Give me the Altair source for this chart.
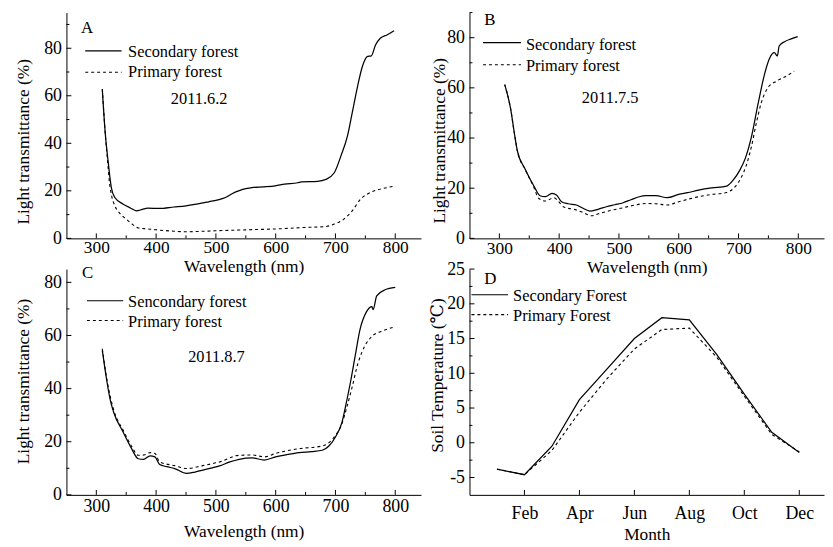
import json
import altair as alt
import pandas as pd

FONT = "Liberation Serif, 'Times New Roman', 'DejaVu Serif', serif"

# ---------------- data ----------------
# Panel A, 2011.6.2
A_SEC_WL = [310, 315, 320, 325, 331, 345, 357, 367, 377, 386, 405, 430, 450, 470, 488, 505, 516, 527,
            538, 550, 560, 580, 599, 615, 637, 643, 670, 684, 698, 709, 720, 728, 737, 745, 753, 760,
            767, 775, 786, 798]
A_SEC_V = [62.8, 44.0, 31.8, 21.5, 17.2, 14.4, 12.8, 11.6, 12.2, 12.7, 12.6, 13.2, 13.7, 14.5, 15.4,
           16.3, 17.2, 18.8, 20.0, 20.9, 21.4, 21.7, 22.1, 22.8, 23.4, 23.8, 24.0, 24.8, 27.6, 34.6,
           43.0, 52.8, 64.0, 72.3, 76.5, 76.8, 81.4, 84.2, 85.6, 87.4]
A_PRI_WL = [310, 315, 318, 322, 326, 331, 340, 350, 360, 370, 385, 400, 425, 450, 480, 510, 538, 565,
            593, 620, 648, 670, 684, 698, 714, 728, 742, 753, 770, 785, 798]
A_PRI_V = [62.8, 44.0, 35.0, 23.5, 17.5, 13.7, 10.3, 8.1, 6.0, 4.4, 4.0, 3.6, 3.1, 2.8, 3.0, 3.3, 3.5,
           3.7, 3.9, 4.2, 4.6, 4.8, 5.0, 6.0, 8.1, 11.6, 16.5, 18.6, 20.4, 21.3, 22.0]

# Panel B, 2011.7.5
B_SEC_WL = [309, 319, 325, 330, 343, 357, 368, 377, 388, 396, 404, 415, 429, 440, 451, 465, 479, 493,
            507, 520, 534, 545, 562, 581, 600, 615, 633, 655, 680, 691, 702, 711, 722, 733, 744, 752,
            760, 765, 768, 777, 788, 799]
B_SEC_V = [61.3, 51.4, 42.0, 35.0, 27.7, 21.2, 17.0, 16.6, 17.9, 17.2, 14.6, 13.8, 13.3, 12.0, 10.9,
           11.6, 12.6, 13.4, 14.2, 15.4, 16.6, 17.0, 17.0, 16.2, 17.5, 18.2, 19.2, 20.1, 20.8, 23.2,
           27.1, 31.7, 40.9, 54.0, 65.9, 71.8, 74.0, 72.7, 76.7, 78.4, 79.5, 80.4]
B_PRI_WL = [309, 319, 325, 330, 343, 357, 366, 377, 391, 398, 407, 429, 441, 454, 466, 479, 507, 525,
            545, 562, 581, 600, 633, 655, 680, 694, 705, 713, 722, 730, 738, 749, 763, 777, 793]
B_PRI_V = [61.3, 51.4, 42.0, 35.0, 27.5, 20.8, 15.9, 14.9, 16.2, 15.0, 12.6, 11.3, 10.2, 9.0, 9.8,
           10.7, 12.2, 13.2, 13.9, 13.8, 13.3, 14.6, 16.6, 17.5, 18.3, 20.5, 24.5, 29.1, 37.0, 46.2,
           54.0, 60.0, 62.6, 64.3, 66.6]

# Panel C, 2011.8.7
C_SEC_WL = [310, 318, 323, 329, 345, 359, 370, 379, 390, 398, 406, 418, 431, 451, 465, 478, 492, 506,
            522, 539, 561, 581, 600, 620, 639, 660, 678, 689, 700, 711, 716, 725, 733, 741, 752, 761,
            763, 769, 783, 800]
C_SEC_V = [54.5, 42.3, 36.0, 31.1, 23.6, 17.4, 13.6, 13.4, 14.7, 14.3, 11.4, 10.6, 9.9, 8.1, 8.6, 9.3,
           10.1, 10.9, 12.3, 13.4, 13.9, 13.1, 14.3, 15.2, 15.9, 16.3, 16.8, 18.4, 21.8, 27.4, 32.4,
           42.3, 52.3, 62.2, 69.0, 70.9, 69.7, 74.9, 77.2, 78.1]
C_PRI_WL = [310, 318, 329, 345, 359, 370, 380, 390, 398, 406, 431, 451, 478, 506, 539, 561, 581, 600,
            639, 678, 700, 711, 719, 727, 738, 749, 761, 777, 797]
C_PRI_V = [55.0, 43.0, 32.0, 24.3, 18.3, 14.9, 15.0, 15.9, 15.6, 12.4, 11.0, 9.9, 11.0, 12.4, 14.9,
           15.0, 14.3, 15.6, 17.4, 18.4, 22.4, 26.9, 33.0, 39.8, 49.8, 56.0, 59.7, 61.6, 63.1]

# Panel D, soil temperature
MONTH_NUM = [1, 2, 3, 4, 5, 6, 7, 8, 9, 10, 11, 12]
MONTH_NAMES = ["Jan", "Feb", "Mar", "Apr", "May", "Jun", "Jul", "Aug", "Sep", "Oct", "Nov", "Dec"]
D_SEC = [-3.8, -4.6, -0.5, 6.2, 10.6, 15.0, 18.0, 17.7, 12.7, 7.0, 1.5, -1.4]
D_PRI = [-3.8, -4.6, -1.1, 4.4, 9.2, 13.5, 16.3, 16.5, 12.3, 6.7, 1.2, -1.3]

# text
LEG_A = ["Secondary forest", "Primary forest"]
LEG_B = ["Secondary forest", "Primary forest"]
LEG_C = ["Sencondary forest", "Primary forest"]
LEG_D = ["Secondary Forest", "Primary Forest"]
DATES = ["2011.6.2", "2011.7.5", "2011.8.7"]
LETTERS = ["A", "B", "C", "D"]

WL_MAJOR = [300, 400, 500, 600, 700, 800]
WL_MINOR = [350, 450, 550, 650, 750]
WL_DOMAIN = [250, 843]

W, H = 358, 228
DASH = [3, 3]


def one(text=""):
    return pd.DataFrame({"t": [text]})


def text_layer(txt, x, y, size=16.5, align="left"):
    return alt.Chart(one(txt)).mark_text(
        font=FONT, fontSize=size, align=align, baseline="alphabetic", color="black"
    ).encode(x=alt.value(x), y=alt.value(y), text="t:N")


def legend_layers(names, lx0, lx1, y1, y2, tx, ty1, ty2):
    return [
        alt.Chart(one()).mark_rule(color="black", strokeWidth=1.1).encode(
            x=alt.value(lx0), x2=alt.value(lx1), y=alt.value(y1)),
        alt.Chart(one()).mark_rule(color="black", strokeWidth=1.1, strokeDash=DASH).encode(
            x=alt.value(lx0), x2=alt.value(lx1), y=alt.value(y2)),
        text_layer(names[0], tx, ty1),
        text_layer(names[1], tx, ty2),
    ]


def tick_layers(xs, ys, xaxis, yaxis, xmajor, xminor, ymajor, yminor):
    layers = []
    for vals, ln in ((xmajor, 5), (xminor, 3)):
        if vals:
            layers.append(alt.Chart(pd.DataFrame({"t": vals})).mark_rule(color="black", strokeWidth=1).encode(
                x=alt.X("t:Q", scale=xs, axis=xaxis), y=alt.value(H), y2=alt.value(H - ln)))
    for vals, ln in ((ymajor, 5), (yminor, 3)):
        if vals:
            layers.append(alt.Chart(pd.DataFrame({"t": vals})).mark_rule(color="black", strokeWidth=1).encode(
                y=alt.Y("t:Q", scale=ys, axis=yaxis), x=alt.value(0), x2=alt.value(ln)))
    return layers


def spectral(sec_wl, sec_v, pri_wl, pri_v, ydom, yminor, letter, names, date, pos):
    xs = alt.Scale(domain=WL_DOMAIN, nice=False, zero=False)
    ys = alt.Scale(domain=ydom, nice=False, zero=False)
    xaxis = alt.Axis(values=WL_MAJOR, title="Wavelength (nm)", labelPadding=pos["xlp"],
                     labelFontSize=pos["xls"], titleY=pos["xty"], format="d")
    yaxis = alt.Axis(values=[0, 20, 40, 60, 80], title="Light transmittance (%)", labelPadding=5,
                     titleX=pos["ytx"], titleY=pos["yty"], format="d")
    pri = alt.Chart(pd.DataFrame({"wl": pri_wl, "v": pri_v})).mark_line(
        color="black", strokeWidth=1.1, strokeDash=DASH, interpolate="monotone").encode(
        x=alt.X("wl:Q", scale=xs, axis=xaxis), y=alt.Y("v:Q", scale=ys, axis=yaxis))
    sec = alt.Chart(pd.DataFrame({"wl": sec_wl, "v": sec_v})).mark_line(
        color="black", strokeWidth=1.25, interpolate="monotone").encode(
        x=alt.X("wl:Q", scale=xs, axis=xaxis), y=alt.Y("v:Q", scale=ys, axis=yaxis))
    L = pos["leg"]
    layers = [pri, sec] + tick_layers(xs, ys, xaxis, yaxis, WL_MAJOR, WL_MINOR, [0, 20, 40, 60, 80], yminor)
    layers += [text_layer(letter, pos["lx"], pos["ly"], size=17)]
    layers += legend_layers(names, *L)
    layers += [text_layer(date, pos["dx"], pos["dy"], align="center")]
    return alt.layer(*layers).properties(width=W, height=H)


A = spectral(A_SEC_WL, A_SEC_V, A_PRI_WL, A_PRI_V, [0, 95], [10, 30, 50, 70, 90], LETTERS[0], LEG_A, DATES[0],
             dict(xlp=0, xls=17.5, xty=19.5, ytx=-34, yty=130, lx=14.7, ly=20.3,
                  leg=(19, 55.7, 38.7, 60.3, 62.3, 45.3, 65.3), dx=134, dy=92))
B = spectral(B_SEC_WL, B_SEC_V, B_PRI_WL, B_PRI_V, [0, 90], [10, 30, 50, 70, 90], LETTERS[1], LEG_B, DATES[1],
             dict(xlp=1, xls=17.5, xty=20.5, ytx=-21.5, yty=129, lx=15, ly=12.7,
                  leg=(13.7, 52, 30.3, 52.7, 57, 37.7, 59.3), dx=142, dy=91))
C = spectral(C_SEC_WL, C_SEC_V, C_PRI_WL, C_PRI_V, [0, 85], [10, 30, 50, 70], LETTERS[2], LEG_C, DATES[2],
             dict(xlp=3, xls=18, xty=27.7, ytx=-34, yty=113, lx=15.7, ly=8.7,
                  leg=(20.7, 57.3, 32, 52, 62.3, 38.7, 58), dx=151.5, dy=93.7))

# Panel D
mxs = alt.Scale(domain=[0, 12.9], nice=False, zero=False)
mys = alt.Scale(domain=[-7.5, 25], nice=False, zero=False)
MONTH_MAJOR = [2, 4, 6, 8, 10, 12]
D_YMAJOR = [-5, 0, 5, 10, 15, 20, 25]
D_YMINOR = [-2.5, 2.5, 7.5, 12.5, 17.5, 22.5]
dxaxis = alt.Axis(values=MONTH_MAJOR, title="Month", labelPadding=10, titleY=30.7,
                  labelExpr=json.dumps(MONTH_NAMES) + "[datum.value - 1]")
dyaxis = alt.Axis(values=D_YMAJOR, title="Soil Temperature (\u2103)", labelPadding=5, titleX=-23,
                  titleY=107, labelExpr="'' + datum.value")
d_pri = alt.Chart(pd.DataFrame({"m": MONTH_NUM, "v": D_PRI})).mark_line(
    color="black", strokeWidth=1.1, strokeDash=DASH).encode(
    x=alt.X("m:Q", scale=mxs, axis=dxaxis), y=alt.Y("v:Q", scale=mys, axis=dyaxis))
d_sec = alt.Chart(pd.DataFrame({"m": MONTH_NUM, "v": D_SEC})).mark_line(
    color="black", strokeWidth=1.25).encode(
    x=alt.X("m:Q", scale=mxs, axis=dxaxis), y=alt.Y("v:Q", scale=mys, axis=dyaxis))
d_layers = [d_pri, d_sec] + tick_layers(mxs, mys, dxaxis, dyaxis, MONTH_MAJOR, [], D_YMAJOR, D_YMINOR)
d_layers += [text_layer(LETTERS[3], 15, 14.6, size=17)]
d_layers += legend_layers(LEG_D, 2, 39, 26, 46, 44, 32.6, 52.6)
D = alt.layer(*d_layers).properties(width=W, height=H)

chart = alt.concat(
    A, B, C, D, columns=2, spacing={"row": 31, "column": 49}, bounds="flush"
).properties(
    padding={"left": 6, "top": 0, "right": 0, "bottom": 0}
).configure_view(
    stroke="transparent"
).configure_axis(
    labelFont=FONT, titleFont=FONT, labelFontSize=18, titleFontSize=17.5,
    labelColor="black", titleColor="black", domainColor="black", domainWidth=1,
    titleFontWeight="normal", grid=False, ticks=False
)

chart.save("out.html", embed_options={"renderer": "svg", "actions": False})
